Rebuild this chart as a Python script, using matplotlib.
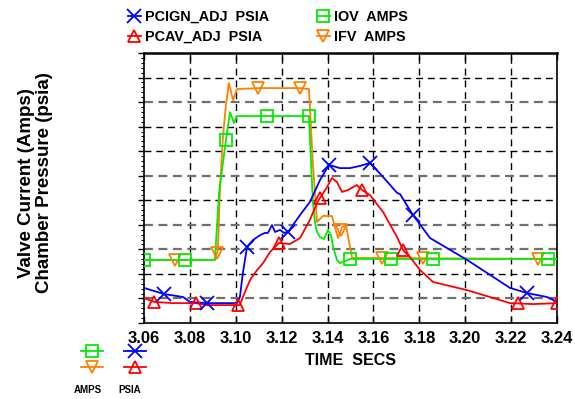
import numpy as np
import matplotlib
matplotlib.use('Agg')
import matplotlib.pyplot as plt
from matplotlib.ticker import MultipleLocator, AutoMinorLocator, NullFormatter
from matplotlib.lines import Line2D

plt.rcParams['font.family'] = ['Liberation Sans', 'DejaVu Sans']
plt.rcParams['font.weight'] = 'bold'

# values are in plot grid units (axis has 11 divisions, no y labels)
# PCIGN_ADJ PSIA
pcign_t = [3.0600, 3.0687, 3.0770, 3.0800, 3.0875, 3.1005, 3.1018, 3.1031, 3.1049,
           3.1075, 3.1106, 3.1127, 3.1140, 3.1158, 3.1171, 3.1193, 3.1210, 3.1228,
           3.1280, 3.1323, 3.1367, 3.1406, 3.1454, 3.1498, 3.1541, 3.1585, 3.1642,
           3.1703, 3.1716, 3.1772, 3.1847, 3.2008, 3.2195, 3.2269, 3.2356, 3.2400]
pcign_v = [1.43, 1.18, 1.06, 0.86, 0.81, 0.81, 1.06, 2.04, 3.10,
           3.38, 3.58, 3.67, 3.67, 3.99, 3.71, 3.79, 3.67, 3.71,
           4.40, 4.93, 5.82, 6.44, 6.31, 6.31, 6.40, 6.52, 5.95,
           5.30, 5.25, 4.40, 3.46, 2.57, 1.43, 1.22, 1.06, 0.86]
pcign_mk = [3.0687, 3.0875, 3.1049, 3.1228, 3.1406, 3.1585, 3.1772, 3.2269]

# PCAV_ADJ PSIA
pcav_t = [3.0600, 3.0644, 3.0726, 3.0827, 3.0875, 3.1010, 3.1018, 3.1031, 3.1062,
          3.1093, 3.1119, 3.1149, 3.1188, 3.1236, 3.1280, 3.1323, 3.1354, 3.1367,
          3.1398, 3.1419, 3.1441, 3.1463, 3.1489, 3.1528, 3.1550, 3.1585, 3.1642,
          3.1703, 3.1729, 3.1759, 3.1803, 3.1860, 3.2008, 3.2195, 3.2295, 3.2400]
pcav_v = [1.02, 0.86, 0.81, 0.81, 0.73, 0.73, 0.73, 1.06, 1.75,
          2.16, 2.44, 2.89, 3.26, 3.22, 3.46, 4.20, 4.89, 5.09,
          5.54, 5.91, 5.74, 5.34, 5.42, 5.62, 5.42, 5.21, 4.52,
          3.50, 2.97, 2.69, 2.16, 1.67, 1.34, 0.81, 0.77, 0.81]
pcav_mk = [3.0644, 3.0827, 3.1010, 3.1188, 3.1367, 3.1550, 3.1729, 3.2230, 3.2400]

# IOV AMPS
iov_t = [3.0600, 3.0909, 3.0927, 3.0957, 3.0975, 3.0992, 3.1005, 3.1136, 3.1319,
         3.1336, 3.1345, 3.1354, 3.1367, 3.1385, 3.1402, 3.1415, 3.1424, 3.1441,
         3.1454, 3.1476, 3.1498, 3.2400]
iov_v = [2.57, 2.57, 5.30, 7.45, 8.59, 8.15, 8.43, 8.43, 8.43,
         4.93, 4.11, 3.71, 3.50, 3.42, 3.79, 3.58, 3.10, 2.57,
         2.44, 2.52, 2.61, 2.61]
iov_mk = [3.0600, 3.0779, 3.0957, 3.1136, 3.1319, 3.1498, 3.1677, 3.1860, 3.2361]

# IFV AMPS
ifv_t = [3.0600, 3.0909, 3.0922, 3.0931, 3.0944, 3.0957, 3.0970, 3.0988, 3.1005,
         3.1097, 3.1280, 3.1319, 3.1336, 3.1354, 3.1367, 3.1380, 3.1419, 3.1432,
         3.1446, 3.1463, 3.1480, 3.1507, 3.2400]
ifv_v = [2.57, 2.57, 2.97, 5.42, 7.58, 8.88, 9.78, 9.08, 9.53,
         9.57, 9.57, 9.53, 6.50, 4.11, 4.24, 4.36, 4.36, 3.91,
         3.46, 3.91, 3.99, 2.65, 2.61]
ifv_mk = [3.0735, 3.0918, 3.1097, 3.1280, 3.1459, 3.1637, 3.1816, 3.2317]

x_ticks = [3.06, 3.08, 3.10, 3.12, 3.14, 3.16, 3.18, 3.20, 3.22, 3.24]
grid_black = [2, 5, 7, 8, 10]
grid_gray = [1, 3, 4, 6, 9]

BLUE = '#0000ff'
RED = '#ff0000'
GREEN = '#00ee00'
ORANGE = '#ff8000'

fig = plt.figure(figsize=(5.75, 3.99), dpi=100)
ax = fig.add_axes([144/575, 1-323/399, 413/575, 270/399])

for x in x_ticks[1:-1]:
    ax.axvline(x, color='black', lw=1.0, dashes=(5, 3.5), zorder=1)
for y in grid_black:
    ax.axhline(y, color='black', lw=1.0, dashes=(5, 3.5), zorder=1)
for y in grid_gray:
    ax.axhline(y, color='#707070', lw=1.6, dashes=(4, 2.5), zorder=1)

series = [
    (ifv_t, ifv_v, ifv_mk, ORANGE, 'v', 8.5, 'IFV  AMPS'),
    (iov_t, iov_v, iov_mk, GREEN, 's', 8.5, 'IOV  AMPS'),
    (pcav_t, pcav_v, pcav_mk, RED, '^', 8.5, 'PCAV_ADJ  PSIA'),
    (pcign_t, pcign_v, pcign_mk, BLUE, 'x', 10, 'PCIGN_ADJ  PSIA'),
]
handles = {}
for t, v, mk, c, m, ms, lab in series:
    ax.plot(t, v, color=c, lw=1.3, zorder=3)
    ax.plot(mk, np.interp(mk, t, v), ls='none', marker=m, ms=ms, mfc='none',
            mec=c, mew=1.3, zorder=4)
    handles[lab] = Line2D([], [], color=c, lw=1.3, marker=m, ms=ms, mfc='none',
                          mec=c, mew=1.3)

ax.set_xlim(3.06, 3.24)
ax.set_ylim(0, 11)
ax.set_xticks(x_ticks)
ax.set_xticklabels(['%.2f' % x for x in x_ticks], fontsize=12, fontweight='bold')
ax.tick_params(axis='x', direction='in', length=5, width=1, pad=6, top=True)
ax.yaxis.set_major_locator(MultipleLocator(1))
ax.yaxis.set_minor_locator(AutoMinorLocator(5))
ax.yaxis.set_major_formatter(NullFormatter())
ax.tick_params(axis='y', which='major', direction='out', length=4, width=1)
ax.tick_params(axis='y', which='minor', direction='out', length=2.5, width=0.8)
for s in ax.spines.values():
    s.set_linewidth(1.2)
ax.spines['top'].set_linewidth(1.8)

ax.set_xlabel('TIME  SECS', fontsize=11.5, fontweight='bold', labelpad=5)
ax.set_ylabel('Valve Current (Amps)\nChamber Pressure (psia)', fontsize=13.5,
              fontweight='bold', va='center', linespacing=1.1)
ax.yaxis.set_label_coords(-0.262, 0.52)

order = ['PCIGN_ADJ  PSIA', 'PCAV_ADJ  PSIA', 'IOV  AMPS', 'IFV  AMPS']
fig.legend([handles[k] for k in order], order, ncol=2, loc='upper left',
           bbox_to_anchor=(119/575, 0.997), frameon=False, fontsize=10.4,
           handlelength=0.9, handletextpad=0.3, columnspacing=3.3,
           labelspacing=0.4, borderaxespad=0.2)

# small unit key, lower left
key = [(92, 351, GREEN, 's', 8.5), (92, 367, ORANGE, 'v', 8.5),
       (135, 351, BLUE, 'x', 10), (135, 367, RED, '^', 8.5)]
for cx, cy, c, m, ms in key:
    fig.add_artist(Line2D([(cx-11)/575, cx/575, (cx+11)/575], [1-cy/399]*3,
                          transform=fig.transFigure, color=c, lw=1.3, marker=m,
                          ms=ms, mfc='none', mec=c, mew=1.3, markevery=[1]))
fig.text(88/575, 1-390/399, 'AMPS', fontsize=7, fontweight='bold', ha='center', va='center')
fig.text(130/575, 1-390/399, 'PSIA', fontsize=7, fontweight='bold', ha='center', va='center')

fig.savefig('out.png', dpi=100)
